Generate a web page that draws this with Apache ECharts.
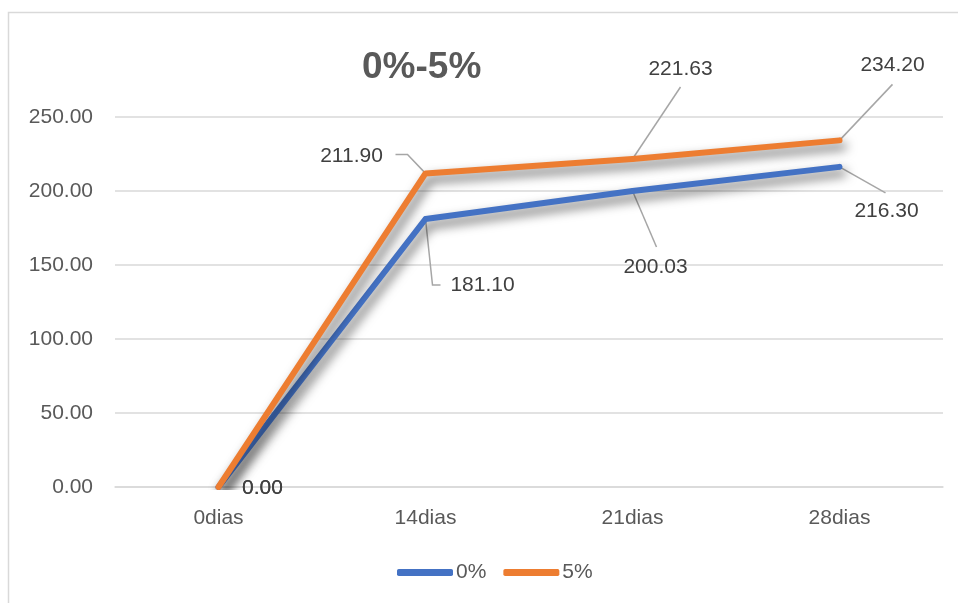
<!DOCTYPE html>
<html>
<head>
<meta charset="utf-8">
<script src="https://cdn.jsdelivr.net/npm/echarts@6/dist/echarts.min.js"></script>
<style>
  html, body { margin: 0; padding: 0; background: #fff; }
  #chart { width: 958px; height: 603px; }
</style>
</head>
<body>
<div id="chart"></div>
<script>
// Categories and measured values
const categories = ['0dias', '14dias', '21dias', '28dias'];
const series0 = [0.00, 181.10, 200.03, 216.30];
const series5 = [0.00, 211.90, 221.63, 234.20];
const seriesNames = ['0%', '5%'];
const yTicks = { min: 0, max: 250, interval: 50 };

// Label centre offset from its point (px), per series / point
const labelOffsets = [
  [[44, 1], [57, 66], [23, 76], [47, 44]],
  [[44, 1], [-74, -17], [48, -90], [53, -75]]
];
// Leader-line bend/end offsets from the point (px); empty = no leader
const leaderOffsets = [
  [[], [[7, 66], [15, 66]], [[24, 56]], [[46, 26]]],
  [[], [[-18, -19], [-30, -19]], [[48, -72]], [[53, -56]]]
];

const FONT = 'Liberation Sans';
const chart = echarts.init(document.getElementById('chart'), null, { renderer: 'canvas' });

function lineSeries(name, data, color, idx) {
  return {
    name: name,
    type: 'line',
    data: data,
    symbol: 'circle',
    symbolSize: 5,
    itemStyle: { color: color },
    lineStyle: {
      color: color,
      width: 6,
      cap: 'round',
      join: 'round',
      shadowColor: 'rgba(0,0,0,0.62)',
      shadowBlur: 11,
      shadowOffsetX: 4,
      shadowOffsetY: 6
    },
    label: {
      show: true,
      position: 'inside',
      fontFamily: FONT,
      fontSize: 21,
      color: '#404040',
      formatter: p => p.value.toFixed(2)
    },
    labelLayout: function (p) {
      const off = labelOffsets[idx][p.dataIndex];
      return { dx: off[0], dy: off[1] };
    },
    emphasis: { disabled: true },
    z: 3 + idx
  };
}

// Leader lines from each point towards its value label
const leaderData = [];
[series0, series5].forEach((vals, s) => {
  vals.forEach((v, i) => {
    if (leaderOffsets[s][i].length) leaderData.push([i, v, s]);
  });
});

const leaderSeries = {
  type: 'custom',
  name: 'leaders',
  data: leaderData,
  encode: { x: 0, y: 1 },
  silent: true,
  z: 2,
  renderItem: function (params, api) {
    const i = api.value(0), v = api.value(1), s = api.value(2);
    const p = api.coord([i, v]);
    const pts = [p].concat(leaderOffsets[s][i].map(o => [p[0] + o[0], p[1] + o[1]]));
    return {
      type: 'polyline',
      shape: { points: pts },
      style: { stroke: '#a6a6a6', lineWidth: 1.5, fill: null }
    };
  }
};

chart.setOption({
  backgroundColor: '#ffffff',
  animation: false,
  title: {
    text: '0%-5%',
    left: 357,
    top: 44,
    textStyle: { fontFamily: FONT, fontSize: 37, fontWeight: 'bold', color: '#595959' }
  },
  graphic: [{
    type: 'rect',
    shape: { x: 8.5, y: 12.5, width: 1000, height: 700 },
    style: { fill: 'none', stroke: '#d9d9d9', lineWidth: 1.5 },
    silent: true,
    z: -1
  }],
  legend: {
    data: seriesNames,
    left: 392,
    top: 557,
    itemWidth: 56,
    itemHeight: 7,
    itemGap: 17,
    icon: 'roundRect',
    textStyle: { fontFamily: FONT, fontSize: 21, color: '#595959', padding: [0, 0, 0, -2] }
  },
  grid: { left: 115, right: 15, top: 117, bottom: 116 },
  xAxis: {
    type: 'category',
    data: categories,
    boundaryGap: true,
    axisLine: { show: true, lineStyle: { color: '#d9d9d9', width: 1.5 } },
    axisTick: { show: false },
    axisLabel: { fontFamily: FONT, fontSize: 21, color: '#595959', margin: 21 }
  },
  yAxis: {
    type: 'value',
    min: yTicks.min,
    max: yTicks.max,
    interval: yTicks.interval,
    axisLine: { show: false },
    axisTick: { show: false },
    splitLine: { lineStyle: { color: '#d9d9d9', width: 1.5 } },
    axisLabel: {
      fontFamily: FONT, fontSize: 21, color: '#595959', margin: 22,
      formatter: v => v.toFixed(2)
    }
  },
  series: [
    leaderSeries,
    lineSeries(seriesNames[0], series0, '#4472C4', 0),
    lineSeries(seriesNames[1], series5, '#ED7D31', 1)
  ]
});
</script>
</body>
</html>
